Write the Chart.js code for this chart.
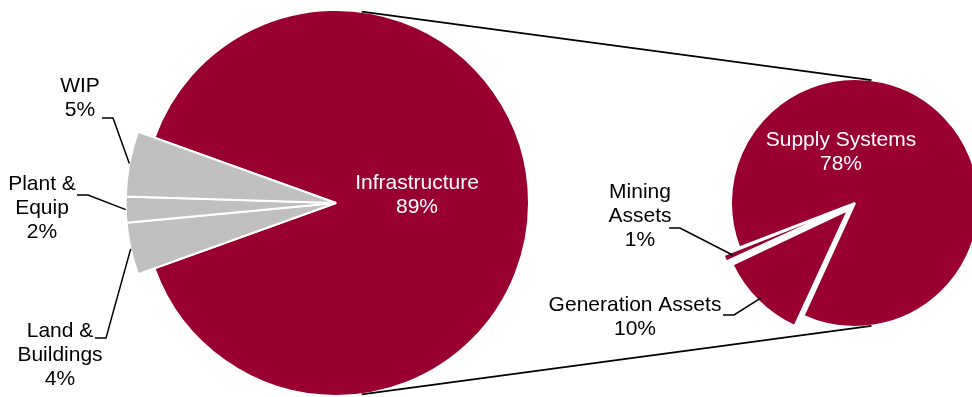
<!DOCTYPE html>
<html>
<head>
<meta charset="utf-8">
<title>Asset breakdown</title>
<script src="https://cdn.jsdelivr.net/npm/chart.js@4.4.1/dist/chart.umd.min.js"></script>
<style>
  body { margin: 0; background: #fff; }
  #wrap { position: relative; width: 972px; height: 397px; }
  #wrap canvas { position: absolute; left: 0; top: 0; }
</style>
</head>
<body>
<div id="wrap">
  <canvas id="assets" width="972" height="397"></canvas>
  <canvas id="infra" width="972" height="397"></canvas>
</div>
<script>
"use strict"

// Asset classes, % of total
const assetNames = ['Infrastructure', 'Land &\nBuildings', 'Plant &\nEquip', 'WIP'];
const assetValues = [89, 4, 2, 5];

// Infrastructure split, % of total
const infraNames = ['Supply Systems', 'Generation Assets', 'Mining\nAssets'];
const infraValues = [78, 10, 1];

const maroon = '#990030';
const grey = '#c0c0c0';
const font = '21px "Liberation Sans", Arial, sans-serif';
const lineGap = 24;

// Where the label text goes (centre of first line) and where its leader starts
const assetLabelPos = [
    { x: 417, y: 183, lead: null },
    { x: 60, y: 331, lead: [95, 338] },
    { x: 42, y: 184, lead: [77, 195] },
    { x: 80, y: 86, lead: [102, 118] }
];
const infraLabelPos = [
    { x: 841, y: 140, lead: null },
    { x: 635, y: 305, lead: [723, 315] },
    { x: 640, y: 192, lead: [669, 228] }
];

// Slice labels with short leader lines
function sliceLabels(names, values, spots) {
    return {
        id: 'sliceLabels',
        afterDatasetsDraw(chart) {
            const ctx = chart.ctx;
            const arcs = chart.getDatasetMeta(0).data;
            ctx.save();
            ctx.font = font;
            ctx.textAlign = 'center';
            ctx.textBaseline = 'middle';
            arcs.forEach((arc, i) => {
                const spot = spots[i];
                const lines = names[i].split('\n').concat(values[i] + '%');
                ctx.fillStyle = spot.lead ? '#000' : '#fff';
                lines.forEach((line, k) => ctx.fillText(line, spot.x, spot.y + k * lineGap));
                if (spot.lead) {
                    // arcs are pushed out by offset / 4 when drawn
                    const mid = (arc.startAngle + arc.endAngle) / 2;
                    const r = arc.outerRadius + (arc.options.offset || 0) / 4;
                    ctx.beginPath();
                    ctx.moveTo(spot.lead[0], spot.lead[1]);
                    ctx.lineTo(spot.lead[0] + 11, spot.lead[1]);
                    ctx.lineTo(arc.x + Math.cos(mid) * r, arc.y + Math.sin(mid) * r);
                    ctx.strokeStyle = '#000';
                    ctx.lineWidth = 1.5;
                    ctx.stroke();
                }
            });
            ctx.restore();
        }
    };
}

// Grey slices stick out past the maroon one
const widenGrey = {
    id: 'widenGrey',
    beforeDatasetsDraw(chart) {
        const meta = chart.getDatasetMeta(0);
        const base = meta.controller.outerRadius;
        meta.data.forEach((arc, i) => {
            if (i > 0) arc.outerRadius = base * 1.09;
        });
    }
};

const assetChart = new Chart(document.getElementById('assets'), {
    type: 'pie',
    data: {
        labels: assetNames,
        datasets: [{
            data: assetValues,
            backgroundColor: [maroon, grey, grey, grey],
            borderColor: '#fff',
            borderWidth: 2,
            radius: 193,
            rotation: 90 - 180 * assetValues[0] / assetValues.reduce((a, b) => a + b, 0),
            clip: false
        }]
    },
    options: {
        responsive: false,
        animation: false,
        events: [],
        layout: { padding: { left: 0, right: 300, top: 9, bottom: 0 } },
        plugins: { legend: { display: false }, tooltip: { enabled: false } }
    },
    plugins: [widenGrey, sliceLabels(assetNames, assetValues, assetLabelPos)]
});

// Lines joining the two pies (outer common tangents)
const connectors = {
    id: 'connectors',
    afterDatasetsDraw(chart) {
        const a = assetChart.getDatasetMeta(0).data[0];
        const b = chart.getDatasetMeta(0).data[0];
        const d = Math.hypot(b.x - a.x, b.y - a.y);
        const base = Math.atan2(b.y - a.y, b.x - a.x);
        const phi = Math.acos((a.outerRadius - b.outerRadius) / d);
        const ctx = chart.ctx;
        ctx.save();
        ctx.strokeStyle = '#000';
        ctx.lineWidth = 1.8;
        [-1, 1].forEach((s) => {
            const t = base + s * phi;
            ctx.beginPath();
            ctx.moveTo(a.x + Math.cos(t) * a.outerRadius, a.y + Math.sin(t) * a.outerRadius);
            ctx.lineTo(b.x + Math.cos(t) * b.outerRadius, b.y + Math.sin(t) * b.outerRadius);
            ctx.stroke();
        });
        ctx.restore();
    }
};

new Chart(document.getElementById('infra'), {
    type: 'pie',
    data: {
        labels: infraNames,
        datasets: [{
            data: infraValues,
            backgroundColor: maroon,
            borderColor: '#fff',
            borderWidth: 2,
            offset: [0, 40, 36],
            radius: 124,
            rotation: 249,
            clip: false
        }]
    },
    options: {
        responsive: false,
        animation: false,
        events: [],
        layout: { padding: { left: 738, right: 0, top: 9, bottom: 0 } },
        plugins: { legend: { display: false }, tooltip: { enabled: false } }
    },
    plugins: [connectors, sliceLabels(infraNames, infraValues, infraLabelPos)]
});
</script>
</body>
</html>
